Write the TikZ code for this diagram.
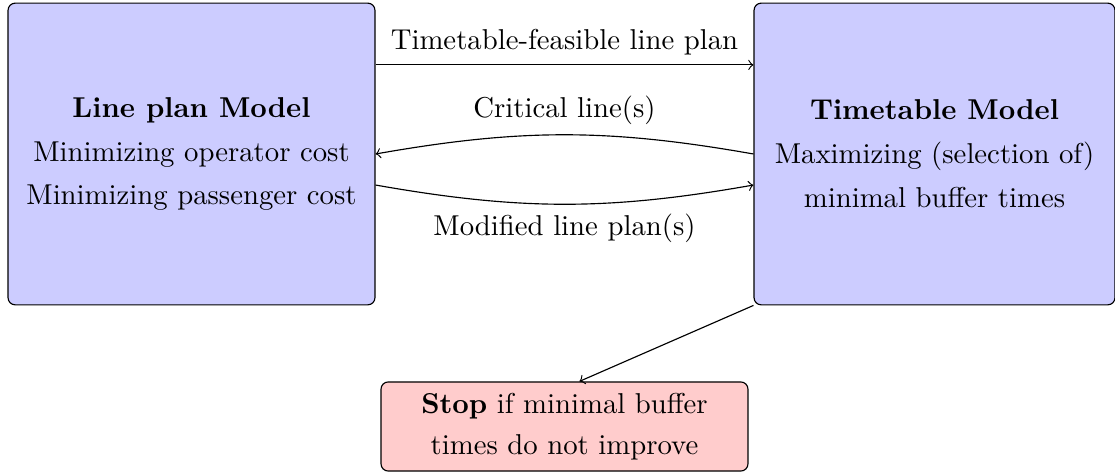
\documentclass[tikz,border=0pt]{standalone}
\usetikzlibrary{positioning}
\begin{document}
\begin{tikzpicture}
  [
    x=0.348pt, y=-0.348pt,
    model/.style =
      {draw, rounded corners=2.5pt, fill=blue!20, align=center,
       minimum height=105pt, inner sep=0pt},
    stopbox/.style =
      {draw, rounded corners=2.5pt, fill=red!20, align=center,
       minimum width=127.7pt, minimum height=31pt, inner sep=0pt},
    larrow/.style =
      {->}
  ]
  \useasboundingbox (0,0) rectangle (1115,473);
  \node [model, minimum width=127.7pt] at (191.5,154) (lp)
    {\textbf{Line plan Model}\\[3.3pt]
     Minimizing operator cost\\[3.3pt]
     Minimizing passenger cost};
  \node [model, minimum width=125.6pt] at (934.5,154) (tt)
    {\textbf{Timetable Model}\\[3.3pt]
     Maximizing (selection of)\\[3.3pt]
     minimal buffer times};
  \node [stopbox] at (564.5,426.5) (stop)
    {\textbf{Stop} if minimal buffer\\[2.3pt]
     times do not improve};

  \draw [larrow] ([yshift=31pt]lp.east) -- node[above] {Timetable-feasible line plan} ([yshift=31pt]tt.west);
  \draw [larrow] (tt.west) to[bend right=10] node[above] {Critical line(s)} (lp.east);
  \draw [larrow] ([yshift=-10.8pt]lp.east) to[bend right=10] node[below] {Modified line plan(s)} ([yshift=-10.8pt]tt.west);
  \draw [larrow] (tt.south west) -- ([xshift=5.2pt]stop.north);
\end{tikzpicture}
\end{document}
